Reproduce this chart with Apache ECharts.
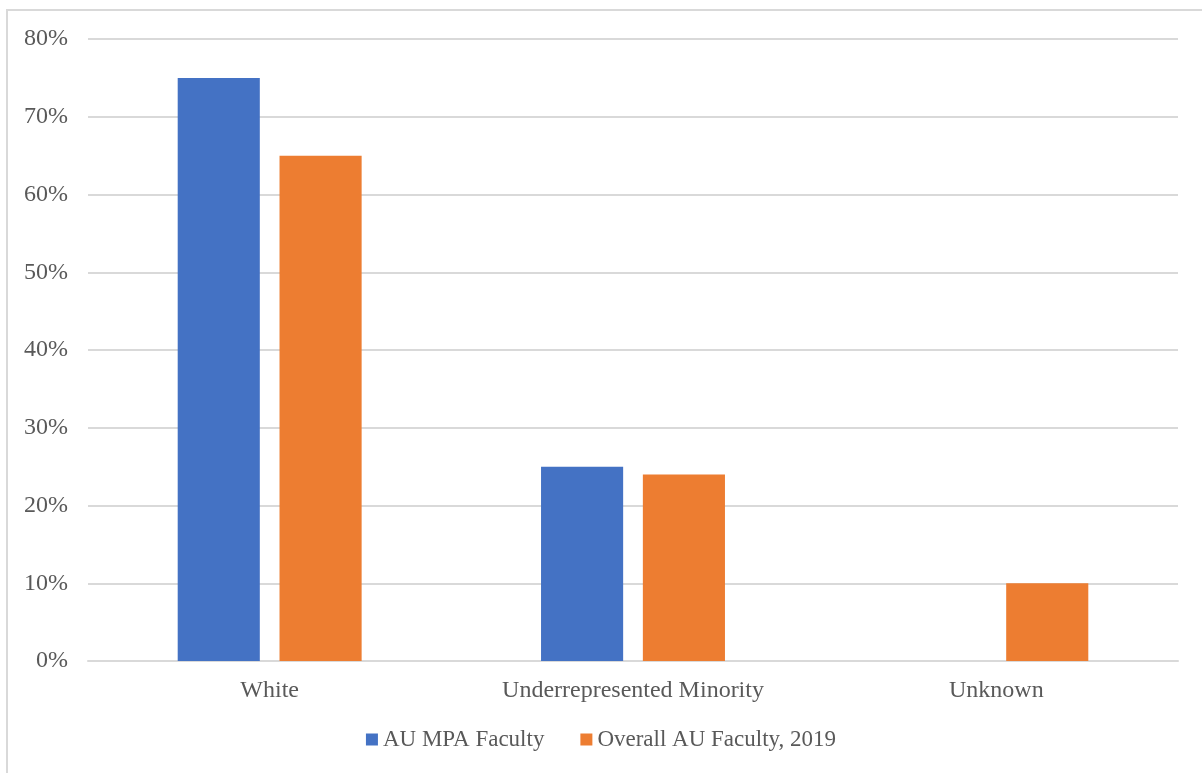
<!DOCTYPE html>
<html>
<head>
<meta charset="utf-8">
<script src="https://cdn.jsdelivr.net/npm/echarts@6/dist/echarts.min.js"></script>
<style>
  html, body { margin: 0; padding: 0; background: #fff; }
  #chart { width: 1202px; height: 773px; }
</style>
</head>
<body>
<div id="chart"></div>
<script>
// Faculty composition by race/ethnicity (percent)
const categories = ['White', 'Underrepresented Minority', 'Unknown'];
const mpaFaculty = [75, 25, 0];
const overallFaculty = [65, 24, 10];
const seriesNames = ['AU MPA Faculty', 'Overall AU Faculty, 2019'];

const FONT = '"Liberation Serif", "Times New Roman", serif';
const TEXT = '#595959';
const GRID = '#d9d9d9';

const chart = echarts.init(document.getElementById('chart'), null, { renderer: 'canvas' });

chart.setOption({
  animation: false,
  backgroundColor: '#ffffff',
  graphic: [{
    type: 'rect',
    shape: { x: 7, y: 10, width: 1400, height: 900 },
    style: { fill: 'none', stroke: GRID, lineWidth: 2 },
    silent: true
  }],
  grid: { left: 88, right: 24, top: 39, bottom: 112, containLabel: false },
  legend: {
    bottom: 17,
    left: 'center',
    itemWidth: 12,
    itemHeight: 12,
    itemGap: 36,
    icon: 'rect',
    textStyle: { fontFamily: FONT, fontSize: 23, color: TEXT, padding: [0, 0, 0, 0] },
    data: seriesNames
  },
  xAxis: {
    type: 'category',
    data: categories,
    axisLine: { show: true, lineStyle: { color: GRID, width: 2 } },
    axisTick: { show: false },
    axisLabel: { fontFamily: FONT, fontSize: 24, color: TEXT, margin: 18 }
  },
  yAxis: {
    type: 'value',
    min: 0,
    max: 80,
    interval: 10,
    axisLine: { show: false },
    axisTick: { show: false },
    splitLine: { lineStyle: { color: GRID, width: 2 } },
    axisLabel: {
      fontFamily: FONT, fontSize: 24, color: TEXT, margin: 20,
      formatter: v => v + '%'
    }
  },
  series: [
    {
      name: seriesNames[0],
      type: 'bar',
      data: mpaFaculty,
      barWidth: '22.6%',
      barGap: '24%',
      itemStyle: { color: '#4472C4' }
    },
    {
      name: seriesNames[1],
      type: 'bar',
      data: overallFaculty,
      barWidth: '22.6%',
      itemStyle: { color: '#ED7D31' }
    }
  ]
});
</script>
</body>
</html>
